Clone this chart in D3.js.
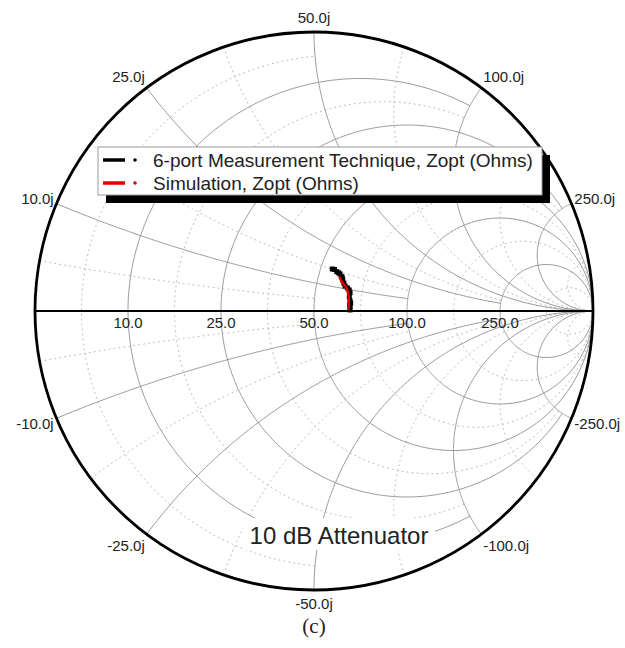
<!DOCTYPE html>
<html>
<head>
<meta charset="utf-8">
<script src="https://cdn.jsdelivr.net/npm/d3@7"></script>
<style>
  body { margin: 0; background: #fff; }
  text { font-family: "Liberation Sans", Arial, sans-serif; fill: #222; }
</style>
</head>
<body>
<svg id="chart" width="625" height="648"></svg>
<script>
// reference impedance
const Z0 = 50;

// major (solid) grid values, normalised
const majorValues = [0.2, 0.5, 1, 2, 5];
// minor (dotted) grid values, normalised
const minorValues = [1 / 11, 1 / 3, 5 / 7, 7 / 5, 3, 11];

const rLabels = ["10.0", "25.0", "50.0", "100.0", "250.0"];
const xLabels = ["10.0j", "25.0j", "50.0j", "100.0j", "250.0j"];

// 6-port measurement, Zopt (ohms)
const measR = [54.3, 55.2, 56.4, 57.3, 58.0, 59.0, 59.4, 59.8, 60.6, 61.4, 62.6, 63.6, 64.2, 64.1, 64.6, 65.0, 64.6, 64.8, 64.8];
const measX = [16.8, 16.9, 16.3, 16.1, 15.8, 14.9, 14.4, 13.6, 12.4, 11.2, 10.6, 9.8, 8.6, 6.7, 4.9, 3.8, 2.9, 2.0, 0.5];

// simulation, Zopt (ohms)
const simR = [58.0, 59.5, 61.0, 62.3, 63.3, 63.8, 64.1, 64.1];
const simX = [14.6, 12.8, 11.6, 10.5, 8.3, 6.6, 5.1, 0.4];

const legendItems = ["6-port Measurement Technique, Zopt (Ohms)", "Simulation, Zopt (Ohms)"];
const legendColors = ["#000", "#e00000"];

const cx = 314, cy = 311, rad = 279;

const svg = d3.select("#chart");
svg.append("rect").attr("width", 625).attr("height", 648).attr("fill", "#fff");

const gx = d3.scaleLinear().domain([-1, 1]).range([cx - rad, cx + rad]);
const gy = d3.scaleLinear().domain([-1, 1]).range([cy + rad, cy - rad]);

// z = r + jx  ->  reflection coefficient
function gamma(r, x) {
  const den = (r + 1) * (r + 1) + x * x;
  return [(r * r - 1 + x * x) / den, (2 * x) / den];
}

const line = d3.line().x(d => gx(d[0])).y(d => gy(d[1]));

// constant-r circle, clipped at |x| <= xmax
function rCircle(r, xmax) {
  const a = Math.min(Math.atan(xmax), Math.PI / 2 - 1e-6);
  return d3.range(0, 361).map(i => gamma(r, Math.tan(-a + 2 * a * i / 360)));
}
// constant-x arc, clipped at r <= rmax
function xArc(x, rmax) {
  const a = Math.min(Math.atan(rmax), Math.PI / 2 - 1e-6);
  return d3.range(0, 201).map(i => gamma(Math.tan(a * i / 200), x));
}

// clip limit: a line with index i stops at the other family's index i+3
const limit = i => (i + 3 < majorValues.length ? majorValues[i + 3] : Infinity);

const grid = svg.append("g");

// minor dotted grid
minorValues.forEach((v, i) => {
  const lim = i + 2 < majorValues.length ? majorValues[i + 2] : Infinity;
  grid.append("path").attr("d", line(rCircle(v, lim)))
    .attr("fill", "none").attr("stroke", "#bdbdbd").attr("stroke-width", 1).attr("stroke-dasharray", "2,3");
  [1, -1].forEach(s => {
    grid.append("path").attr("d", line(xArc(s * v, lim)))
      .attr("fill", "none").attr("stroke", "#bdbdbd").attr("stroke-width", 1).attr("stroke-dasharray", "2,3");
  });
});

// major solid grid
majorValues.forEach((v, i) => {
  grid.append("path").attr("d", line(rCircle(v, limit(i))))
    .attr("fill", "none").attr("stroke", "#9a9a9a").attr("stroke-width", 1);
  [1, -1].forEach(s => {
    grid.append("path").attr("d", line(xArc(s * v, limit(i))))
      .attr("fill", "none").attr("stroke", "#9a9a9a").attr("stroke-width", 1);
  });
});

// real axis and outer circle
svg.append("line")
  .attr("x1", gx(-1)).attr("x2", gx(1)).attr("y1", gy(0)).attr("y2", gy(0))
  .attr("stroke", "#000").attr("stroke-width", 2);
svg.append("circle")
  .attr("cx", gx(0)).attr("cy", gy(0)).attr("r", gx(1) - gx(0))
  .attr("fill", "none").attr("stroke", "#000").attr("stroke-width", 2.8);

// resistance labels
majorValues.forEach((v, i) => {
  const g = gamma(v, 0);
  svg.append("text")
    .attr("x", gx(g[0])).attr("y", gy(0) + 17)
    .attr("text-anchor", "middle").attr("font-size", 15)
    .text(rLabels[i]);
});

// reactance labels
majorValues.forEach((v, i) => {
  [1, -1].forEach(s => {
    const g = gamma(0, s * v);
    const c = g[0], sn = g[1];
    const anchor = c > 0.1 ? "start" : c < -0.1 ? "end" : "middle";
    svg.append("text")
      .attr("x", gx(c) + c * 3).attr("y", gy(sn) - sn * 14)
      .attr("dy", "0.35em")
      .attr("text-anchor", anchor).attr("font-size", 15)
      .text((s < 0 ? "-" : "") + xLabels[i]);
  });
});

// data traces
function toPoints(rs, xs) {
  return rs.map((r, i) => gamma(r / Z0, xs[i] / Z0));
}
const measPts = toPoints(measR, measX);
const simPts = toPoints(simR, simX);

svg.append("path").attr("d", line(measPts))
  .attr("fill", "none").attr("stroke", "#000").attr("stroke-width", 2.5);
svg.selectAll(".mk").data(measPts).enter().append("rect")
  .attr("x", d => gx(d[0]) - 2.5).attr("y", d => gy(d[1]) - 2.5)
  .attr("width", 5).attr("height", 5).attr("fill", "#000");
svg.append("path").attr("d", line(simPts))
  .attr("fill", "none").attr("stroke", "#e00000").attr("stroke-width", 2.5);

// legend
const lg = svg.append("g");
lg.append("rect").attr("x", 106).attr("y", 155).attr("width", 444).attr("height", 48).attr("fill", "#000");
lg.append("rect").attr("x", 98).attr("y", 147).attr("width", 444).attr("height", 48)
  .attr("fill", "#fff").attr("stroke", "#999").attr("stroke-width", 1);
legendItems.forEach((t, i) => {
  const yy = 160 + i * 23;
  lg.append("line").attr("x1", 103).attr("x2", 125).attr("y1", yy).attr("y2", yy)
    .attr("stroke", legendColors[i]).attr("stroke-width", 3.5);
  lg.append("circle").attr("cx", 135).attr("cy", yy).attr("r", 1.8).attr("fill", legendColors[i]);
  lg.append("text").attr("x", 153).attr("y", yy + 7).attr("font-size", 19).text(t);
});

// annotation with white background
const ann = svg.append("g");
ann.append("rect").attr("x", 243).attr("y", 518).attr("width", 192).attr("height", 32).attr("fill", "#fff");
ann.append("text").attr("x", 339).attr("y", 544).attr("text-anchor", "middle")
  .attr("font-size", 24).text("10 dB Attenuator");

// caption
svg.append("text").attr("x", 314).attr("y", 633).attr("text-anchor", "middle")
  .attr("font-size", 21).style("font-family", "'Liberation Serif', 'Times New Roman', serif")
  .text("(c)");
</script>
</body>
</html>
